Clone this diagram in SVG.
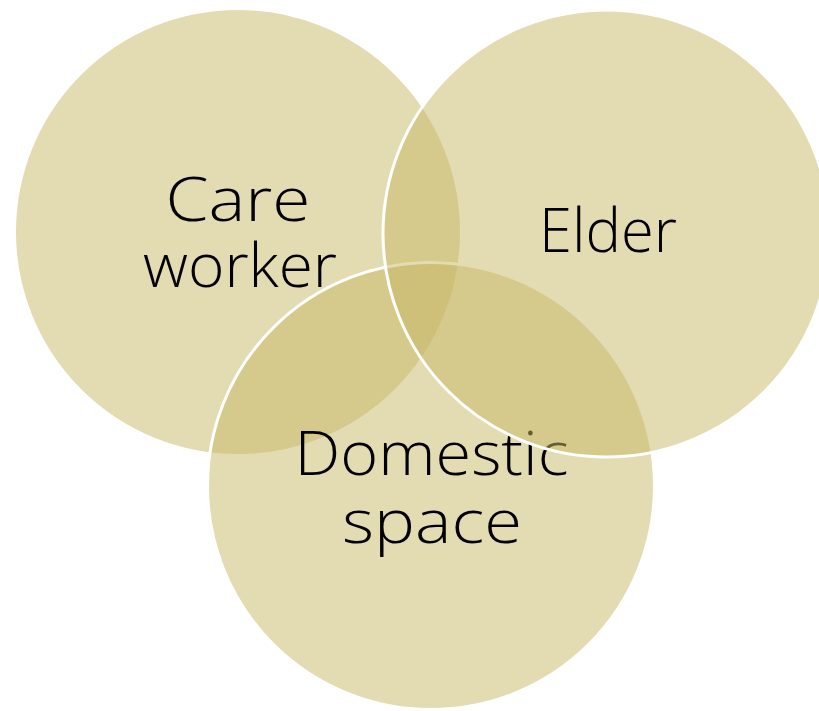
<svg xmlns="http://www.w3.org/2000/svg" width="819" height="711" viewBox="0 0 819 711">
  <style>
    .c { fill: #C8B865; fill-opacity: 0.5; stroke: #FFFFFF; stroke-width: 3; }
    .t { font-family: "Open Sans", "DejaVu Sans", "Liberation Sans", sans-serif; font-weight: 300; font-size: 61px; fill: #000000; text-anchor: middle; }
  </style>
  <rect x="0" y="0" width="819" height="711" fill="#FFFFFF"/>
  <g id="care-worker">
    <circle class="c" cx="238" cy="232" r="223.5"/>
    <text class="t" x="238" y="221" textLength="145" lengthAdjust="spacingAndGlyphs">Care</text>
    <text class="t" x="240" y="287" textLength="194" lengthAdjust="spacingAndGlyphs">worker</text>
  </g>
  <g id="domestic-space">
    <circle class="c" cx="431" cy="486" r="223.5"/>
    <text class="t" x="431.5" y="475" textLength="274" lengthAdjust="spacingAndGlyphs">Domestic</text>
    <text class="t" x="432" y="543" textLength="180" lengthAdjust="spacingAndGlyphs">space</text>
  </g>
  <g id="elder">
    <circle class="c" cx="606.5" cy="233.5" r="223.5"/>
    <text class="t" x="608" y="252" textLength="138" lengthAdjust="spacingAndGlyphs">Elder</text>
  </g>
  <g id="connectors"></g>
</svg>
